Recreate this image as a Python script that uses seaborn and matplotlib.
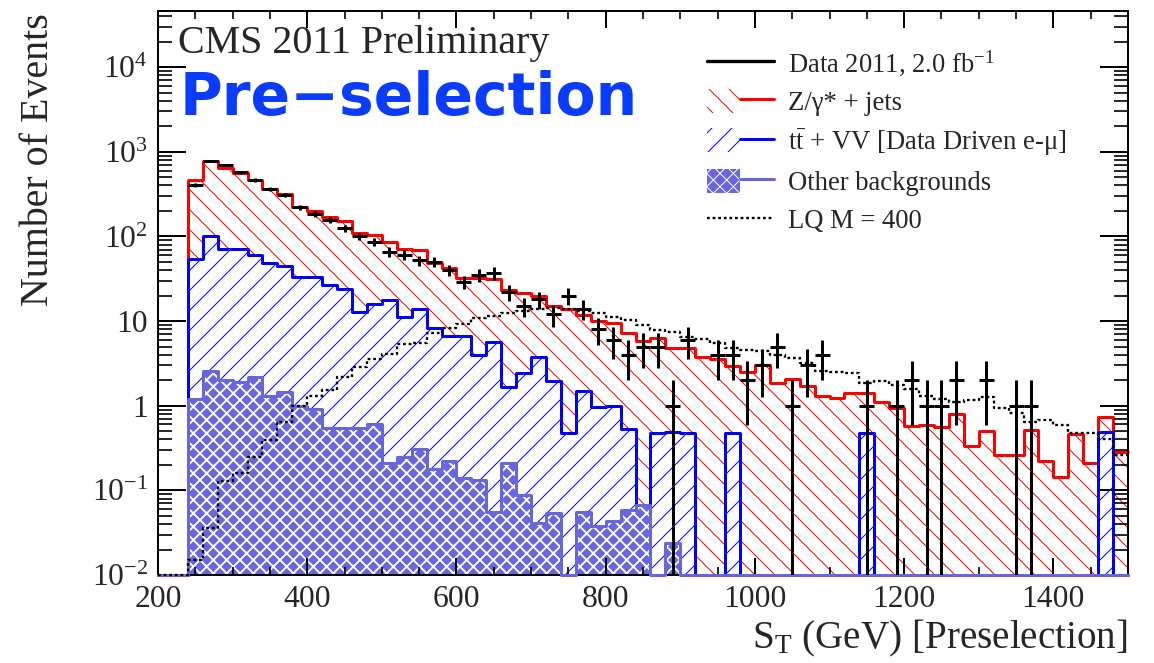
import numpy as np
import matplotlib
matplotlib.use("Agg")
import matplotlib.pyplot as plt
import seaborn as sns
from matplotlib.lines import Line2D
from matplotlib.patches import Patch
from matplotlib.legend_handler import HandlerTuple
from matplotlib.ticker import MultipleLocator, LogLocator, FuncFormatter, NullFormatter

# ---------------------------------------------------------------- data
# S_T binning: 20 GeV bins from 200 to 1500 GeV
bin_edges = np.arange(200, 1501, 20)

# expected yields per bin (events / 2.0 fb^-1)
z_jets = [0, 0,
          412, 687, 569, 487, 405, 313, 273, 192, 169, 142,
          130, 98, 89, 69.5, 60, 55, 39.7, 35.3, 25.3, 28,
          25.3, 21.3, 19.1, 16.2, 13.3, 13.3, 10.4, 9.0, 8.6, 6.7,
          5.7, 5.9, 4.3, 4.3, 3.8, 3.6, 2.5, 2.5, 3.0, 1.85,
          2.05, 1.7, 1.29, 1.24, 1.41, 0.93, 1.12, 0.95, 0.57, 0.59,
          0.56, 0.79, 0.33, 0.50, 0.26, 0.26, 0.52, 0.22, 0.145, 0.46,
          0.21, 0.25, 0.28]
ttbar_vv = [0, 0,
            52.8, 97.4, 69, 69.1, 58.8, 47.7, 43.6, 32, 32.1, 26.3,
            23.5, 12.2, 15.2, 17.3, 10.9, 13.5, 8.1, 6.5, 6.56, 3.87,
            5.64, 1.46, 2.34, 3.76, 1.89, 0.48, 1.42, 0.94, 0.94, 0.47,
            0, 0.48, 0.47, 0.48, 0, 0, 0.48, 0, 0, 0,
            0, 0, 0, 0, 0, 0.48, 0, 0, 0, 0,
            0, 0, 0, 0, 0, 0, 0, 0, 0, 0,
            0, 0.49, 0]
other_bkg = [0, 0,
             1.2, 2.6, 2.03, 1.88, 2.2, 1.29, 1.44, 0.98, 0.91, 0.55,
             0.55, 0.55, 0.61, 0.21, 0.25, 0.31, 0.18, 0.22, 0.14, 0.134,
             0.056, 0.21, 0.089, 0.041, 0.054, 0, 0.055, 0.038, 0.043, 0.059,
             0.067, 0, 0.024, 0, 0, 0, 0, 0, 0, 0,
             0, 0, 0, 0, 0, 0, 0, 0, 0, 0,
             0, 0, 0, 0, 0, 0, 0, 0, 0, 0,
             0, 0, 0]
lq_m400 = [0, 0,
           0.015, 0.036, 0.128, 0.16, 0.25, 0.39, 0.65, 1.0, 1.29, 1.55,
           2.2, 2.9, 3.6, 4.1, 5.4, 5.5, 7.3, 8.3, 9.2, 10.8,
           11.4, 12.5, 13, 14, 14.3, 14, 13, 12.6, 11.3, 10.3,
           9.0, 7.9, 7.5, 6.5, 6.1, 5.5, 4.8, 4.6, 4.4, 4.0,
           3.66, 3.2, 2.54, 2.5, 2.42, 1.85, 1.94, 1.77, 1.57, 1.29,
           1.2, 1.12, 1.16, 1.25, 0.94, 0.82, 0.64, 0.68, 0.59, 0.48,
           0.48, 0.40, 0.26]
# observed events per bin
data_2011 = [0, 0,
             405, 780, 700, 575, 465, 360, 310, 220, 185, 157,
             125, 100, 87, 66, 61, 52, 50, 40, 29, 35,
             37, 22, 15, 18, 12, 20, 14, 8, 6, 4,
             5, 5, 1, 6, 0, 4, 4, 2, 3, 5,
             1, 3, 4, 0, 0, 1, 0, 1, 2, 1,
             1, 2, 0, 2, 0, 1, 1, 0, 0, 0,
             0, 0, 0]

legend_labels = ["Data 2011, 2.0 fb$^{\\mathregular{-1}}$",
                 "Z/\u03b3* + jets",
                 "t$\\mathregular{\\bar{t}}$ + VV [Data Driven e-\u03bc]",
                 "Other backgrounds",
                 "LQ M = 400"]

# ---------------------------------------------------------------- style
DPI = 120
W, H = 1154, 663
RED, BLUE, PURPLE = "#ff0000", "#0000ff", "#6666dd"
TITLE_BLUE = "#0a3cff"

sns.set_style("ticks")
plt.rcParams.update({
    "font.family": ["Liberation Serif", "DejaVu Serif"],
    "mathtext.fontset": "custom",
    "mathtext.rm": "Liberation Serif",
    "mathtext.it": "Liberation Serif:italic",
    "mathtext.bf": "Liberation Serif:bold",
    "hatch.linewidth": 0.6,
    "axes.linewidth": 1.2,
    "axes.edgecolor": "black",
})

fig = plt.figure(figsize=(W / DPI, H / DPI), dpi=DPI)
ax = fig.add_axes([158 / W, 1 - 575 / H, (1128 - 158) / W, (575 - 11) / H])
ax.set_yscale("log")
y_lo, y_hi = 1e-2, 4.6e4

centers = 0.5 * (bin_edges[:-1] + bin_edges[1:])
other = np.asarray(other_bkg, float)
stack_other = other
stack_ttbar = other + np.asarray(ttbar_vv, float)
stack_total = stack_ttbar + np.asarray(z_jets, float)

hist_kw = dict(x=centers, bins=bin_edges.tolist(), element="step", ax=ax)
line_px = 3 * 72 / DPI  # 3-pixel outline


def draw_layer(height, color, hatch, face="white", zline=2.0):
    sns.histplot(weights=height, fill=True, color=color, facecolor=face,
                 edgecolor=color, hatch=hatch, linewidth=0,
                 zorder=1, **hist_kw)
    sns.histplot(weights=np.maximum(height, y_lo), fill=False, color=color,
                 linewidth=line_px, zorder=zline, clip_on=False, **hist_kw)


# stacked backgrounds, top of stack first so lower layers cover it
draw_layer(stack_total, RED, "\\\\")
draw_layer(stack_ttbar, BLUE, "//")
draw_layer(stack_other, PURPLE, None, face=PURPLE, zline=2.6)
with plt.rc_context({"hatch.linewidth": 1.1}):
    sns.histplot(weights=stack_other, fill=True, color=PURPLE, facecolor="none",
                 edgecolor="white", hatch="xxx", linewidth=0, zorder=1.1,
                 **hist_kw)

# signal
sns.histplot(weights=np.maximum(np.asarray(lq_m400, float), y_lo), fill=False,
             color="black", linewidth=1.4, linestyle=(0, (1.2, 1.2)),
             zorder=2.7, clip_on=False, **hist_kw)

# data with Poisson errors
counts = np.asarray(data_2011, float)
has = counts > 0
ax.errorbar(centers[has], counts[has], xerr=10, yerr=np.sqrt(counts[has]),
            fmt="none", ecolor="black", elinewidth=1.8, capsize=0, zorder=4)

# ---------------------------------------------------------------- axes
ax.set_xlim(200, 1500)
ax.set_ylim(y_lo, y_hi)
ax.set_axisbelow(False)
ax.set_xlabel("")
ax.set_ylabel("")
for s in ax.spines.values():
    s.set_visible(True)
    s.set_linewidth(1.2)
    s.set_zorder(2.55)

ax.xaxis.set_major_locator(MultipleLocator(200))
ax.xaxis.set_minor_locator(MultipleLocator(50))
ax.yaxis.set_major_locator(LogLocator(base=10, numticks=20))
ax.yaxis.set_minor_locator(LogLocator(base=10, subs=np.arange(2, 10), numticks=20))
ax.yaxis.set_minor_formatter(NullFormatter())


def log_label(v, _pos):
    e = int(round(np.log10(v)))
    if e == 0:
        return "1"
    if e == 1:
        return "10"
    return r"10$^{\mathregular{%d}}$" % e


ax.yaxis.set_major_formatter(FuncFormatter(log_label))
ax.tick_params(which="both", direction="in", top=True, right=True,
               labelsize=19, width=1.2, color="black")
ax.tick_params(axis="y", which="major", length=16.8, pad=6)
ax.tick_params(axis="y", which="minor", length=8.4, width=1.0)
ax.tick_params(axis="x", which="major", length=10.2, pad=6)
ax.tick_params(axis="x", which="minor", length=4.8, width=1.0)

fig.text(1128 / W, 1 - 648 / H, r"S$_{\mathregular{T}}$ (GeV) [Preselection]",
         ha="right", va="baseline", fontsize=23.5)
fig.text(39 / W, 1 - 13 / H, "Number of Events", rotation=90,
         ha="center", va="top", fontsize=24)

fig.text(178 / W, 1 - 53 / H, "CMS 2011 Preliminary", fontsize=24,
         va="baseline", ha="left")
fig.text(180 / W, 1 - 115 / H, "Pre\u2212selection", fontsize=35, fontweight="bold",
         family="DejaVu Sans", color=TITLE_BLUE, va="baseline", ha="left")

# ---------------------------------------------------------------- legend
with plt.rc_context({"hatch.linewidth": 1.1}):
    other_handle = Patch(facecolor=PURPLE, edgecolor="white", hatch="xxx", lw=0)
handles = [
    Line2D([], [], color="black", lw=2.0),
    (Patch(facecolor="white", edgecolor=RED, hatch="\\\\", lw=0),
     Line2D([], [], color=RED, lw=line_px)),
    (Patch(facecolor="white", edgecolor=BLUE, hatch="//", lw=0),
     Line2D([], [], color=BLUE, lw=line_px)),
    (other_handle, Line2D([], [], color=PURPLE, lw=line_px)),
    Line2D([], [], color="black", lw=1.4, linestyle=(0, (1.2, 1.2))),
]
fig.legend(handles, legend_labels, loc="upper left",
           bbox_to_anchor=(707 / W, 1 - 48 / H), bbox_transform=fig.transFigure,
           frameon=False, fontsize=16, borderpad=0, borderaxespad=0,
           handlelength=2.5, handleheight=1.0, handletextpad=0.55,
           labelspacing=0.42, handler_map={tuple: HandlerTuple(ndivide=None)})

fig.savefig("out.png", dpi=DPI)
